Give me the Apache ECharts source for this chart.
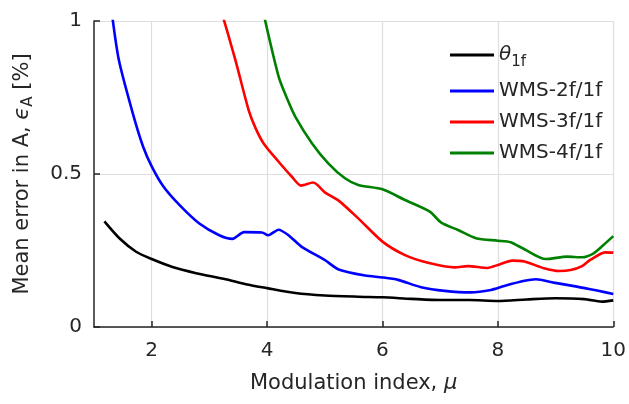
<!DOCTYPE html>
<html><head><meta charset="utf-8">
<script src="https://cdn.jsdelivr.net/npm/echarts@6/dist/echarts.min.js"></script>
<style>html,body{margin:0;padding:0;background:#fff}#c{width:629px;height:404px}</style>
</head><body><div id="c"></div>
<script>
const xTicks = [2, 4, 6, 8, 10];
const seriesNames = ['theta1f', 'WMS-2f/1f', 'WMS-3f/1f', 'WMS-4f/1f'];
const theta1f = [[1.18,0.345],[1.44,0.290],[1.73,0.246],[2.0,0.222],[2.36,0.196],[2.77,0.176],[3.28,0.156],[3.63,0.140],[4.0,0.127],[4.49,0.111],[5.0,0.103],[5.58,0.099],[6.0,0.097],[6.5,0.092],[7.0,0.088],[7.5,0.088],[8.0,0.085],[8.5,0.090],[9.0,0.094],[9.5,0.091],[9.8,0.083],[10.0,0.087]];
const wms2f = [[1.3,1.04],[1.43,0.873],[1.67,0.70],[1.85,0.59],[2.0,0.525],[2.2,0.46],[2.48,0.399],[2.82,0.339],[3.17,0.300],[3.40,0.288],[3.60,0.310],[3.91,0.309],[4.02,0.300],[4.2,0.318],[4.37,0.300],[4.60,0.262],[5.0,0.219],[5.24,0.188],[5.70,0.168],[6.0,0.162],[6.27,0.154],[6.67,0.130],[7.08,0.118],[7.53,0.113],[7.88,0.121],[8.11,0.134],[8.46,0.151],[8.66,0.156],[8.97,0.145],[9.37,0.132],[9.72,0.119],[10.0,0.108]];
const wms3f = [[3.18,1.05],[3.45,0.873],[3.68,0.709],[3.8,0.65],[3.94,0.600],[4.2,0.540],[4.43,0.491],[4.59,0.462],[4.80,0.472],[5.0,0.44],[5.24,0.413],[5.58,0.355],[6.0,0.279],[6.39,0.235],[6.79,0.210],[7.25,0.195],[7.48,0.199],[7.82,0.193],[8.0,0.203],[8.25,0.217],[8.46,0.214],[8.80,0.192],[9.06,0.183],[9.26,0.186],[9.46,0.199],[9.60,0.219],[9.86,0.244],[10.0,0.243]];
const wms4f = [[3.92,1.04],[4.2,0.818],[4.35,0.745],[4.49,0.687],[4.78,0.600],[5.06,0.535],[5.35,0.486],[5.58,0.464],[6.0,0.450],[6.39,0.415],[6.82,0.377],[7.02,0.341],[7.31,0.317],[7.62,0.290],[8.0,0.282],[8.22,0.277],[8.46,0.254],[8.83,0.222],[9.20,0.230],[9.46,0.228],[9.66,0.241],[9.83,0.268],[10.0,0.297]];
const colors = ['#000000', '#0000ff', '#ff0000', '#008000'];
const dataSets = [theta1f, wms2f, wms3f, wms4f];

const FONT = 'DejaVu Sans';
const FS = 20;
const TFS = 21;
const TXT = '#262626';
const chart = echarts.init(document.getElementById('c'), null, {renderer: 'canvas'});
const legendText = {
  fontFamily: FONT, fontSize: FS, color: TXT,
  rich: {
    it: {fontFamily: FONT, fontSize: FS, fontStyle: 'italic', color: TXT},
    sub: {fontFamily: FONT, fontSize: 15, color: TXT, padding: [14, 0, 0, 0]}
  }
};
chart.setOption({
  animation: false,
  grid: {left: 94, right: 13, top: 21, bottom: 77, containLabel: false},
  legend: [
    {data: [seriesNames[0]], left: 445, top: 40, orient: 'vertical', icon: 'rect', itemWidth: 44, itemHeight: 3,
     formatter: () => '{it|θ}{sub|1f}', textStyle: legendText},
    {data: seriesNames.slice(1), left: 445, top: 76, orient: 'vertical', icon: 'rect', itemWidth: 44, itemHeight: 3,
     itemGap: 11, textStyle: legendText}
  ],
  xAxis: {
    type: 'value', min: 1, max: 10,
    name: 'Modulation index, {it|μ}', nameLocation: 'middle', nameGap: 46,
    nameTextStyle: {fontFamily: FONT, fontSize: TFS, color: TXT, rich: {it: {fontFamily: FONT, fontSize: TFS, fontStyle: 'italic', color: TXT}}},
    axisLine: {show: true, lineStyle: {color: TXT, width: 1.5}},
    axisTick: {show: true, inside: true, length: 6, customValues: xTicks, lineStyle: {color: TXT, width: 1.5}},
    axisLabel: {customValues: xTicks, margin: 14, fontFamily: FONT, fontSize: FS, color: TXT},
    splitLine: {show: true, lineStyle: {color: '#dedede', width: 1.2}}
  },
  yAxis: {
    type: 'value', min: 0, max: 1, interval: 0.5,
    name: 'Mean error in A, {it|ϵ}{sub|A} [%]', nameLocation: 'middle', nameGap: 58,
    nameTextStyle: {fontFamily: FONT, fontSize: TFS, color: TXT, rich: {
      it: {fontFamily: FONT, fontSize: TFS, fontStyle: 'italic', color: TXT},
      sub: {fontFamily: FONT, fontSize: 15, color: TXT, padding: [12, 0, 0, 0]}}},
    axisLine: {show: true, lineStyle: {color: TXT, width: 1.5}},
    axisTick: {show: true, inside: true, length: 6, lineStyle: {color: TXT, width: 1.5}},
    axisLabel: {margin: 12, fontFamily: FONT, fontSize: FS, color: TXT},
    splitLine: {show: true, lineStyle: {color: '#dedede', width: 1.2}}
  },
  series: dataSets.map((d, i) => ({
    name: seriesNames[i], type: 'line', data: d, showSymbol: false, symbol: 'none', smooth: 0.25,
    lineStyle: {color: colors[i], width: 2.6}, itemStyle: {color: colors[i]}, clip: true, z: 2 + (3 - i)
  }))
});
</script></body></html>
